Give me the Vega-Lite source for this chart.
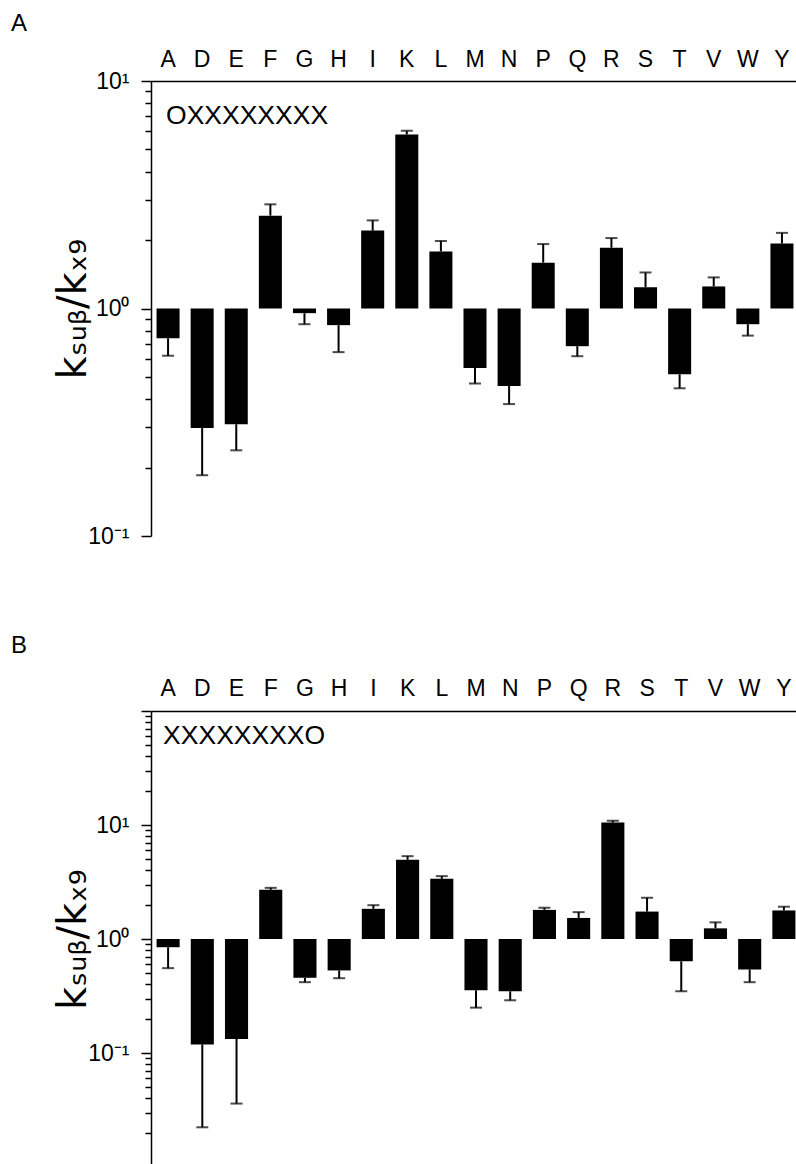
{
  "$schema": "https://vega.github.io/schema/vega-lite/v6.json",
  "background": "white",
  "padding": {"left": 11, "top": 12, "right": 0, "bottom": 0},
  "spacing": 86,
  "config": {
    "font": "Liberation Sans",
    "view": {"stroke": null},
    "axis": {"labelFont": "Liberation Sans", "titleFont": "DejaVu Sans", "labelColor": "black", "titleColor": "black", "domainColor": "black", "tickColor": "black"},
    "title": {"font": "Liberation Sans", "fontWeight": "normal", "fontSize": 24, "color": "black", "anchor": "start", "frame": "group", "baseline": "bottom"}
  },
  "datasets": {
    "A": [
      {"aa": "A", "value": 0.74, "err": 0.62},
      {"aa": "D", "value": 0.298, "err": 0.185},
      {"aa": "E", "value": 0.31, "err": 0.238},
      {"aa": "F", "value": 2.56, "err": 2.87},
      {"aa": "G", "value": 0.954, "err": 0.853},
      {"aa": "H", "value": 0.845, "err": 0.643},
      {"aa": "I", "value": 2.2, "err": 2.44},
      {"aa": "K", "value": 5.82, "err": 6.04},
      {"aa": "L", "value": 1.78, "err": 1.98},
      {"aa": "M", "value": 0.548, "err": 0.468},
      {"aa": "N", "value": 0.456, "err": 0.38},
      {"aa": "P", "value": 1.59, "err": 1.92},
      {"aa": "Q", "value": 0.683, "err": 0.617},
      {"aa": "R", "value": 1.85, "err": 2.04},
      {"aa": "S", "value": 1.24, "err": 1.44},
      {"aa": "T", "value": 0.514, "err": 0.446},
      {"aa": "V", "value": 1.25, "err": 1.37},
      {"aa": "W", "value": 0.853, "err": 0.76},
      {"aa": "Y", "value": 1.93, "err": 2.15}
    ],
    "B": [
      {"aa": "A", "value": 0.847, "err": 0.555},
      {"aa": "D", "value": 0.119, "err": 0.0223},
      {"aa": "E", "value": 0.133, "err": 0.036},
      {"aa": "F", "value": 2.7, "err": 2.81},
      {"aa": "G", "value": 0.457, "err": 0.418},
      {"aa": "H", "value": 0.53, "err": 0.453},
      {"aa": "I", "value": 1.84, "err": 1.98},
      {"aa": "K", "value": 4.95, "err": 5.33},
      {"aa": "L", "value": 3.37, "err": 3.56},
      {"aa": "M", "value": 0.356, "err": 0.25},
      {"aa": "N", "value": 0.348, "err": 0.29},
      {"aa": "P", "value": 1.8, "err": 1.88},
      {"aa": "Q", "value": 1.53, "err": 1.72},
      {"aa": "R", "value": 10.5, "err": 10.9},
      {"aa": "S", "value": 1.74, "err": 2.3},
      {"aa": "T", "value": 0.638, "err": 0.348},
      {"aa": "V", "value": 1.24, "err": 1.4},
      {"aa": "W", "value": 0.54, "err": 0.418},
      {"aa": "Y", "value": 1.78, "err": 1.92}
    ],
    "labelA": [{"aa": "A", "y": 7, "text": "OXXXXXXXX"}],
    "labelB": [{"aa": "A", "y": 60, "text": "XXXXXXXXO"}]
  },
  "vconcat": [
    {
      "title": {"text": "A", "dx": -140, "offset": 12},
      "width": 648,
      "height": 455,
      "encoding": {
        "x": {
          "field": "aa", "type": "nominal", "sort": null,
          "scale": {"type": "band", "paddingInner": 0.325, "paddingOuter": 0.1625},
          "axis": {"orient": "top", "title": null, "ticks": false, "tickSize": 0, "labelPadding": 10, "labelFontSize": 23, "labelAngle": 0, "domainWidth": 1.5}
        }
      },
      "layer": [
        {
          "mark": {"type": "rule", "color": "#555555", "strokeWidth": 1.5},
          "encoding": {"x": null, "y": {"datum": 1, "type": "quantitative", "scale": {"type": "log", "domain": [0.1, 10], "nice": false},
            "axis": {
              "title": "kₛᵤᵦ/kₓ₉", "titleFontSize": 40, "titleFontWeight": "normal", "titlePadding": -6,
              "values": [0.1, 0.2, 0.3, 0.4, 0.5, 0.6, 0.7, 0.8, 0.9, 1, 2, 3, 4, 5, 6, 7, 8, 9, 10],
              "labelExpr": "datum.value == 10 ? '10¹' : datum.value == 1 ? '10⁰' : datum.value == 0.1 ? '10⁻¹' : ''",
              "labelFontSize": 23, "labelPadding": 12, "grid": false, "domainWidth": 1.5, "tickWidth": 1.5,
              "tickSize": {"condition": {"test": "datum.value == 10 || datum.value == 1 || datum.value == 0.1", "value": 10}, "value": 6}
            }}}
        },
        {"data": {"name": "A"}, "mark": {"type": "bar", "color": "black"}, "encoding": {"y": {"field": "value", "type": "quantitative"}, "y2": {"datum": 1}}},
        {"data": {"name": "A"}, "mark": {"type": "rule", "color": "black", "strokeWidth": 2}, "encoding": {"y": {"field": "value", "type": "quantitative"}, "y2": {"field": "err"}}},
        {"data": {"name": "A"}, "mark": {"type": "tick", "color": "black", "orient": "horizontal", "size": 12, "thickness": 2}, "encoding": {"y": {"field": "err", "type": "quantitative"}}},
        {"data": {"name": "labelA"}, "mark": {"type": "text", "align": "left", "baseline": "middle", "dx": -2, "fontSize": 26.5, "color": "black"}, "encoding": {"y": {"field": "y", "type": "quantitative"}, "text": {"field": "text"}}},
        {"mark": {"type": "rule", "color": "black", "strokeWidth": 1.5}, "encoding": {"x": null, "y": {"datum": 0.1, "type": "quantitative"}}}
      ]
    },
    {
      "title": {"text": "B", "dx": -140, "offset": 19},
      "width": 650,
      "height": 456,
      "encoding": {
        "x": {
          "field": "aa", "type": "nominal", "sort": null,
          "scale": {"type": "band", "paddingInner": 0.325, "paddingOuter": 0.1625},
          "axis": {"orient": "top", "title": null, "ticks": false, "tickSize": 0, "labelPadding": 11, "labelFontSize": 23, "labelAngle": 0, "domainWidth": 1.5}
        }
      },
      "layer": [
        {
          "mark": {"type": "rule", "color": "#555555", "strokeWidth": 1.5},
          "encoding": {"x": null, "y": {"datum": 1, "type": "quantitative", "scale": {"type": "log", "domain": [0.01, 100], "nice": false},
            "axis": {
              "title": "kₛᵤᵦ/kₓ₉", "titleFontSize": 40, "titleFontWeight": "normal", "titlePadding": -6,
              "values": [0.01, 0.02, 0.03, 0.04, 0.05, 0.06, 0.07, 0.08, 0.09, 0.1, 0.2, 0.3, 0.4, 0.5, 0.6, 0.7, 0.8, 0.9, 1, 2, 3, 4, 5, 6, 7, 8, 9, 10, 20, 30, 40, 50, 60, 70, 80, 90, 100],
              "labelExpr": "datum.value == 10 ? '10¹' : datum.value == 1 ? '10⁰' : datum.value == 0.1 ? '10⁻¹' : ''",
              "labelFontSize": 23, "labelPadding": 12, "grid": false, "domainWidth": 1.5, "tickWidth": 1.5,
              "tickSize": {"condition": {"test": "datum.value == 10 || datum.value == 1 || datum.value == 0.1 || datum.value == 100 || datum.value == 0.01", "value": 10}, "value": 6}
            }}}
        },
        {"data": {"name": "B"}, "mark": {"type": "bar", "color": "black"}, "encoding": {"y": {"field": "value", "type": "quantitative"}, "y2": {"datum": 1}}},
        {"data": {"name": "B"}, "mark": {"type": "rule", "color": "black", "strokeWidth": 2}, "encoding": {"y": {"field": "value", "type": "quantitative"}, "y2": {"field": "err"}}},
        {"data": {"name": "B"}, "mark": {"type": "tick", "color": "black", "orient": "horizontal", "size": 12, "thickness": 2}, "encoding": {"y": {"field": "err", "type": "quantitative"}}},
        {"data": {"name": "labelB"}, "mark": {"type": "text", "align": "left", "baseline": "middle", "dx": -5, "fontSize": 26.5, "color": "black"}, "encoding": {"y": {"field": "y", "type": "quantitative"}, "text": {"field": "text"}}},
        {"mark": {"type": "rule", "color": "black", "strokeWidth": 1.5}, "encoding": {"x": null, "y": {"datum": 0.01, "type": "quantitative"}}}
      ]
    }
  ]
}
